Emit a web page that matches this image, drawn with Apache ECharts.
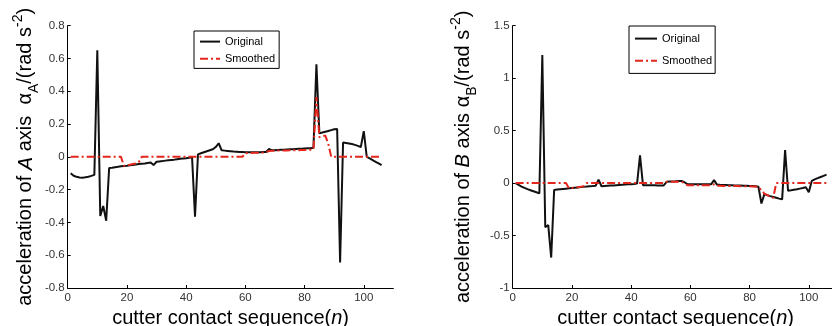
<!DOCTYPE html>
<html><head><meta charset="utf-8">
<script src="https://cdn.jsdelivr.net/npm/echarts@6/dist/echarts.min.js"></script>
<style>html,body{margin:0;padding:0;background:#fff}#c{width:832px;height:326px}</style>
</head><body><div id="c"></div>
<script>
const seqN = [1,2,3,4,5,6,7,8,9,10,11,12,13,14,15,16,17,18,19,20,21,22,23,24,25,26,27,28,29,30,
31,32,33,34,35,36,37,38,39,40,41,42,43,44,45,46,47,48,49,50,51,52,53,54,55,56,57,58,59,60,
61,62,63,64,65,66,67,68,69,70,71,72,73,74,75,76,77,78,79,80,81,82,83,84,85,86,87,88,89,90,
91,92,93,94,95,96,97,98,99,100,101,102,103,104,105,106];

const accA_original = [
-0.100,-0.115,-0.122,-0.126,-0.127,-0.125,-0.121,-0.116,-0.110,0.650,
-0.360,-0.300,-0.390,-0.068,-0.066,-0.063,-0.061,-0.058,-0.056,-0.054,
-0.051,-0.049,-0.047,-0.044,-0.042,-0.040,-0.037,-0.035,-0.050,-0.030,
-0.028,-0.026,-0.023,-0.021,-0.019,-0.017,-0.014,-0.012,-0.010,-0.008,
-0.005,-0.003,-0.365,0.015,0.022,0.028,0.034,0.040,0.046,0.060,
0.083,0.040,0.038,0.036,0.034,0.032,0.031,0.030,0.029,0.028,
0.028,0.028,0.028,0.028,0.028,0.029,0.030,0.048,0.040,0.041,
0.042,0.043,0.044,0.045,0.046,0.047,0.048,0.049,0.050,0.051,
0.052,0.053,0.055,0.565,0.143,0.148,0.153,0.158,0.163,0.168,
0.170,-0.645,0.088,0.085,0.082,0.078,0.073,0.067,0.060,0.157,
0.000,-0.010,-0.020,-0.030,-0.040,-0.050];

const accA_smoothed = [
0,0,0,0,0,0,0,0,0,0,
0,0,0,0,0,0,0,0,-0.055,-0.052,
-0.048,-0.044,-0.040,-0.033,0,0,0,0,0,0,
0,0,0,0,0,0,0,0,0,0,
0,0,0,0,0,0,0,0,0,0,
0,0,0,0,0,0,0,0,0,0.022,
0.023,0.024,0.025,0.025,0.026,0.026,0.027,0.036,0.037,0.037,
0.038,0.038,0.039,0.039,0.040,0.040,0.041,0.041,0.042,0.042,
0.043,0.044,0.045,0.365,0.120,0.125,0.130,0.080,0,0,
0,0,0,0,0,0,0,0,0,0,
0,0,0,0,0,0];

const accB_original = [
0.000,-0.018,-0.033,-0.046,-0.058,-0.068,-0.078,-0.088,-0.098,1.220,
-0.420,-0.400,-0.710,-0.065,-0.062,-0.059,-0.056,-0.053,-0.050,-0.047,
-0.044,-0.041,-0.038,-0.035,-0.033,-0.030,-0.028,-0.025,0.032,-0.030,
-0.028,-0.026,-0.024,-0.022,-0.020,-0.018,-0.016,-0.014,-0.012,-0.010,
-0.008,-0.005,0.265,-0.020,-0.020,-0.021,-0.021,-0.021,-0.022,-0.022,
-0.022,0.012,0.014,0.016,0.017,0.019,0.020,0.008,-0.010,-0.010,
-0.011,-0.011,-0.011,-0.012,-0.012,-0.012,-0.012,0.028,-0.015,-0.017,
-0.018,-0.019,-0.020,-0.021,-0.022,-0.023,-0.024,-0.025,-0.026,-0.027,
-0.028,-0.030,-0.035,-0.195,-0.105,-0.115,-0.124,-0.132,-0.140,-0.148,
-0.155,0.315,-0.073,-0.069,-0.064,-0.059,-0.053,-0.047,-0.040,-0.088,
0.020,0.035,0.047,0.058,0.069,0.080];

const accB_smoothed = [
0,0,0,0,0,0,0,0,0,0,
0,0,0,0,0,0,0,0,-0.050,-0.047,
-0.043,-0.040,-0.036,-0.030,0,0,0,0,0,0,
0,0,0,0,0,0,0,0,0,0,
0,0,0,0,0,0,0,0,0,0,
0,0.012,0.012,0.012,0.013,0.013,0.013,0.000,-0.020,-0.020,
-0.020,-0.020,-0.020,-0.020,-0.020,-0.020,-0.020,-0.012,-0.025,-0.026,
-0.027,-0.027,-0.028,-0.028,-0.029,-0.029,-0.030,-0.030,-0.031,-0.031,
-0.032,-0.033,-0.035,-0.070,-0.100,-0.115,-0.130,-0.140,0,0,
0,0,0,0,0,0,0,0,0,0,
0,0,0,0,0,0];

const xTicks = [0,20,40,60,80,100];
const legendNames = ['Original','Smoothed'];

const FONT = 'Liberation Sans, Arial, sans-serif';
const pairs = (arr) => seqN.map((n, i) => [n, arr[i]]);

const nameRich = {
  t: {fontSize: 20, fontFamily: FONT, color: '#000', lineHeight: 30},
  i: {fontSize: 20, fontFamily: FONT, color: '#000', fontStyle: 'italic', lineHeight: 30},
  sub: {fontSize: 14, fontFamily: FONT, color: '#000', verticalAlign: 'bottom', lineHeight: 14},
  sup: {fontSize: 14, fontFamily: FONT, color: '#000', verticalAlign: 'top', lineHeight: 14}
};

function xAxisCfg(gridIndex) {
  return {
    type: 'value', gridIndex, min: 0, max: 110,
    name: '{t|cutter contact sequence(}{i|n}{t|)}',
    nameLocation: 'middle', nameGap: 9,
    nameTextStyle: {rich: nameRich},
    axisLine: {show: true, onZero: false, lineStyle: {color: '#000', width: 1}},
    axisTick: {show: true, inside: true, length: 3, lineStyle: {color: '#000'}, customValues: xTicks},
    axisLabel: {fontSize: 11.5, fontFamily: FONT, color: '#333', margin: 4, customValues: xTicks},
    splitLine: {show: false}
  };
}
function yAxisCfg(gridIndex, min, max, interval, name, gap) {
  return {
    type: 'value', gridIndex, min, max, interval,
    name, nameLocation: 'middle', nameGap: gap,
    nameTextStyle: {rich: nameRich},
    axisLine: {show: true, onZero: false, lineStyle: {color: '#000', width: 1}},
    axisTick: {show: true, inside: true, length: 3, lineStyle: {color: '#000'}},
    axisLabel: {fontSize: 11.5, fontFamily: FONT, color: '#333', margin: 3},
    splitLine: {show: false}
  };
}
function lineSeries(name, arr, xi, isSmooth) {
  return {
    type: 'line', name, xAxisIndex: xi, yAxisIndex: xi, data: pairs(arr),
    symbol: 'none', smooth: false, z: isSmooth ? 3 : 2,
    lineStyle: isSmooth ? {color: '#e5261c', width: 2, type: [8, 3, 2, 3]} : {color: '#111', width: 2},
    itemStyle: {color: isSmooth ? '#e5261c' : '#111'}
  };
}
const legendCommon = {
  data: legendNames, orient: 'vertical', borderColor: '#000', borderWidth: 1, borderRadius: 0,
  itemHeight: 14, backgroundColor: '#fff',
  itemStyle: {color: 'rgba(0,0,0,0)', borderWidth: 0, opacity: 0},
  textStyle: {fontSize: 11, color: '#000', fontFamily: FONT}
};

const chart = echarts.init(document.getElementById('c'), null, {renderer: 'canvas'});
chart.setOption({
  animation: false,
  backgroundColor: '#fff',
  grid: [
    {left: 67.7, top: 25.7, width: 325.7, height: 262.3, containLabel: false, outerBoundsMode: 'none'},
    {left: 512.7, top: 25.7, width: 325.7, height: 262.3, containLabel: false, outerBoundsMode: 'none'}
  ],
  xAxis: [xAxisCfg(0), xAxisCfg(1)],
  yAxis: [
    yAxisCfg(0, -0.8, 0.8, 0.2, '{t|acceleration of }{i|A}{t| axis  α}{sub|A}{t|/(rad s}{sup|-2}{t|)}', 26),
    yAxisCfg(1, -1, 1.5, 0.5, '{t|acceleration of }{i|B}{t| axis α}{sub|B}{t|/(rad s}{sup|-2}{t|)}', 34)
  ],
  legend: [
    Object.assign({}, legendCommon, {left: 194, top: 31, padding: [5, 4, 4, 5], itemGap: 6, itemWidth: 20}),
    Object.assign({}, legendCommon, {left: 629, top: 26, padding: [7, 3, 7, 5], itemGap: 11, itemWidth: 22})
  ],
  series: [
    lineSeries('Original', accA_original, 0, false),
    lineSeries('Smoothed', accA_smoothed, 0, true),
    lineSeries('Original', accB_original, 1, false),
    lineSeries('Smoothed', accB_smoothed, 1, true)
  ]
});
</script>
</body></html>
